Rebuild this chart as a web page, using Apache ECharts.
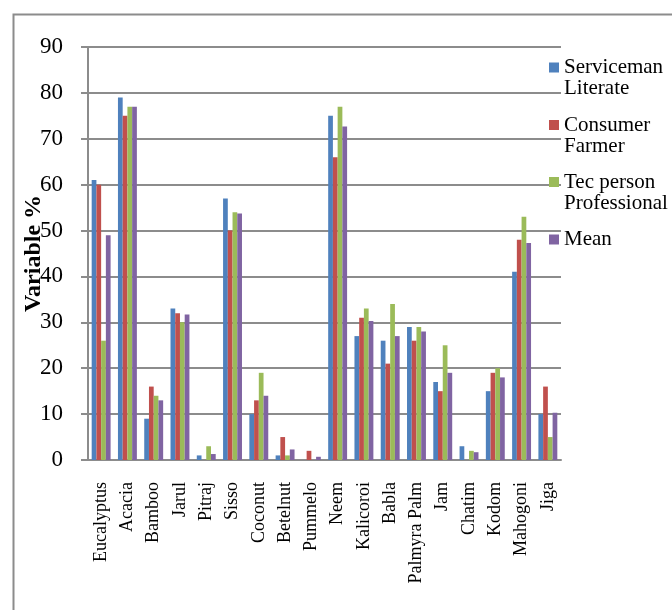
<!DOCTYPE html>
<html>
<head>
<meta charset="utf-8">
<script src="https://cdn.jsdelivr.net/npm/echarts@6/dist/echarts.min.js"></script>
<style>
  html, body { margin: 0; padding: 0; background: #fff; }
  #chart { width: 672px; height: 610px; }
</style>
</head>
<body>
<div id="chart"></div>
<script>
// Tree species on the category axis
const categories = ['Eucalyptus', 'Acacia', 'Bamboo', 'Jarul', 'Pitraj', 'Sisso', 'Coconut',
  'Betelnut', 'Pummelo', 'Neem', 'Kalicoroi', 'Babla', 'Palmyra Palm', 'Jam', 'Chatim',
  'Kodom', 'Mahogoni', 'Jiga'];

// Percentage of respondents per group
const servicemanLiterate = [61, 79, 9, 33, 1, 57, 10, 1, 0, 75, 27, 26, 29, 17, 3, 15, 41, 10];
const consumerFarmer = [60, 75, 16, 32, 0, 50, 13, 5, 2, 66, 31, 21, 26, 15, 0, 19, 48, 16];
const tecPersonProfessional = [26, 77, 14, 30, 3, 54, 19, 1, 0, 77, 33, 34, 29, 25, 2, 20, 53, 5];
const meanValues = [49, 77, 13, 31.7, 1.3, 53.7, 14, 2.3, 0.7, 72.7, 30.3, 27, 28, 19, 1.7, 18, 47.3, 10.3];

const yTicks = { min: 0, max: 90, interval: 10 };

const seriesNames = ['Serviceman\nLiterate', 'Consumer\nFarmer', 'Tec person\nProfessional', 'Mean'];
const seriesData = [servicemanLiterate, consumerFarmer, tecPersonProfessional, meanValues];
const colors = ['#4F81BD', '#C0504D', '#9BBB59', '#8064A2'];

const serif = 'Liberation Serif, Times New Roman, serif';
const lineH = 21;
const legendIconCenters = [67.5, 125, 182, 239.5];

const chart = echarts.init(document.getElementById('chart'), null, { renderer: 'canvas' });

// One legend block per series; a leading blank line keeps the swatch
// level with the first line of a two-line label
const legends = seriesNames.map((name, i) => {
  const twoLines = name.indexOf('\n') >= 0;
  return {
    orient: 'vertical',
    left: 549,
    top: twoLines ? legendIconCenters[i] - 1.5 * lineH : legendIconCenters[i] - lineH / 2,
    padding: 0,
    itemWidth: 10,
    itemHeight: 10,
    icon: 'rect',
    selectedMode: false,
    formatter: n => (n.indexOf('\n') >= 0 ? '\n' + n : n),
    textStyle: {
      fontFamily: serif,
      fontSize: 21,
      lineHeight: lineH,
      color: '#000'
    },
    data: [name]
  };
});

chart.setOption({
  animation: false,
  backgroundColor: '#fff',
  color: colors,
  graphic: [{
    type: 'rect',
    z: -10,
    shape: { x: 13.5, y: 14.5, width: 720, height: 720 },
    style: { fill: 'none', stroke: '#8c8c8c', lineWidth: 2 }
  }],
  legend: legends,
  grid: { left: 88, right: 111, top: 47, bottom: 150, outerBoundsMode: 'none' },
  xAxis: {
    type: 'category',
    data: categories,
    axisLine: { lineStyle: { color: '#8c8c8c', width: 2 } },
    axisTick: { length: 5, lineStyle: { color: '#8c8c8c', width: 2 } },
    axisLabel: {
      rotate: 90,
      margin: 22,
      interval: 0,
      fontFamily: serif,
      fontSize: 18,
      color: '#000'
    }
  },
  yAxis: {
    type: 'value',
    min: yTicks.min,
    max: yTicks.max,
    interval: yTicks.interval,
    name: 'Variable %',
    nameLocation: 'middle',
    nameGap: 42,
    nameMoveOverlap: false,
    nameTextStyle: { fontFamily: serif, fontSize: 24, fontWeight: 'bold', color: '#000' },
    axisLine: { show: true, lineStyle: { color: '#8c8c8c', width: 2 } },
    axisTick: { show: true, length: 7, lineStyle: { color: '#8c8c8c', width: 2 } },
    axisLabel: { margin: 25, fontFamily: serif, fontSize: 23, color: '#000' },
    splitLine: { lineStyle: { color: '#8c8c8c', width: 2 } }
  },
  series: seriesNames.map((name, i) => ({
    name: name,
    type: 'bar',
    data: seriesData[i],
    barGap: '0%',
    barCategoryGap: '28%',
    itemStyle: { color: colors[i] }
  }))
});
</script>
</body>
</html>
